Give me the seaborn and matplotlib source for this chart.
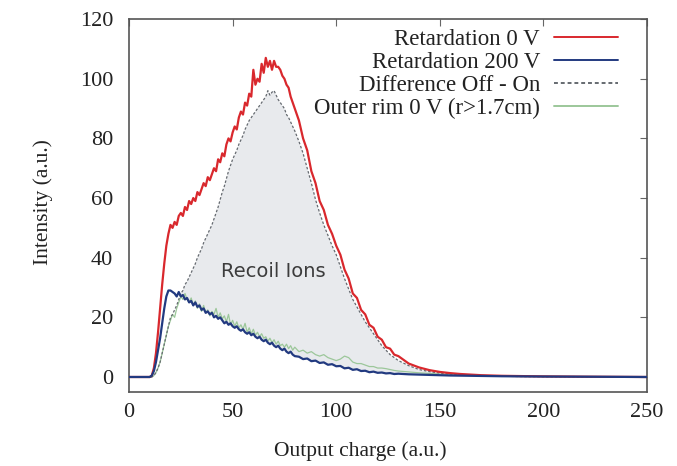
import numpy as np
import matplotlib
matplotlib.use("Agg")
import matplotlib.pyplot as plt
import seaborn as sns

# Output charge bins (a.u.)
charge = [0,
          10, 11, 12, 13, 14, 15, 16, 17, 18, 19, 20,
          21, 22, 23, 24, 25, 26, 27, 28, 29, 30,
          31, 32, 33, 34, 35, 36, 37, 38, 39, 40,
          41, 42, 43, 44, 45, 46, 47, 48, 49, 50,
          51, 52, 53, 54, 55, 56, 57, 58, 59, 60,
          61, 62, 63, 64, 65, 66, 67, 68, 69, 70,
          71, 72, 73, 74, 75, 76, 77, 78, 79, 80,
          82, 84, 86, 88, 90, 92, 94, 96, 98, 100,
          102, 104, 106, 108, 110, 112, 114, 116, 118, 120,
          122, 124, 126, 128, 130,
          135, 140, 145, 150, 155, 160, 170, 180, 190, 200, 220, 250]

# Retardation 0 V
ret_0v = [0,
          0, 0.5, 3, 8, 15, 23, 31, 38, 44, 48, 51,
          50, 52, 51, 54, 55, 54, 57, 56, 59, 58,
          60, 59, 62, 61, 63, 65, 64, 67, 66, 68,
          70, 69, 73, 72, 75, 74, 78, 80, 79, 82,
          84, 83, 87, 89, 88, 92, 91, 95, 94, 103,
          98, 100, 99, 105, 102, 107, 104, 106, 103, 106,
          104, 104, 103, 101, 100, 98, 97, 94, 92, 90,
          86, 80, 76, 69, 65, 59, 56, 51, 48, 44,
          41, 36, 33, 28, 26.5, 22.5, 21, 17.5, 16.5, 13.5,
          12.5, 10, 9.5, 7.5, 7,
          4.5, 3.2, 2.3, 1.7, 1.3, 1, 0.6, 0.4, 0.3, 0.2, 0.1, 0]

# Retardation 200 V
ret_200v = [0,
            0, 0.5, 2, 5, 9, 13, 18, 23, 27, 29, 29,
            28.5, 28, 27, 28.5, 27, 27.5, 26, 26.5, 25, 25.5,
            24, 25, 23.5, 24, 22.5, 23, 21.5, 22, 21, 21.5,
            20, 20.5, 19.5, 20, 19, 18, 18.5, 17.5, 18, 17,
            16.5, 17, 16, 15.5, 16, 15, 14.5, 15, 14, 14.5,
            13.5, 13, 13.5, 12.5, 12, 12.5, 11.5, 11, 11.5, 10.5,
            10, 10.5, 9.5, 9, 9.5, 8.5, 8, 8.5, 7.5, 7,
            6.8, 6.0, 6.2, 5.3, 5.5, 4.7, 4.9, 4.1, 4.3, 3.6,
            3.7, 2.9, 3.1, 2.4, 2.6, 2.0, 2.1, 1.6, 1.8, 1.4,
            1.5, 1.2, 1.3, 1.0, 1.1,
            0.9, 0.8, 0.7, 0.6, 0.5, 0.45, 0.35, 0.25, 0.2, 0.15, 0.1, 0]

# Difference Off - On
diff_off_on = [0,
               0, 0, 0.5, 1.5, 3, 5, 8, 11, 14, 17, 20,
               21, 22.5, 24, 26, 28, 29, 31, 32, 33.5, 35,
               36.5, 38, 40, 41.5, 43, 45, 46.5, 48, 49.5, 51,
               53, 55, 57, 59.5, 62, 64, 66.5, 69, 71, 73,
               74.5, 76, 78, 79.5, 81, 83, 84.5, 86, 87, 88,
               89, 90, 91, 92, 93, 94, 96, 94.5, 95.5, 96,
               94.5, 93, 92, 91, 90, 88, 87, 85.5, 84, 82.5,
               79, 75, 70, 65, 59.5, 55, 51, 47.5, 44, 41,
               37, 33, 29.5, 26, 23.5, 21, 18.5, 16.5, 14.5, 12.5,
               10.5, 9, 7.5, 6.5, 5.5,
               3.8, 2.5, 1.8, 1.3, 1, 0.7, 0.4, 0.25, 0.15, 0.1, 0.05, 0]

# Outer rim 0 V (r>1.7cm)
outer_rim = [0,
             0, 0, 0.5, 1.5, 3, 5, 8, 11, 14, 17, 19,
             21, 20, 23, 25, 27, 26, 28, 26, 25, 26.5,
             24, 25.5, 23, 24.5, 22, 24, 21.5, 22.5, 20.5, 22,
             21, 23, 20, 21.5, 19.5, 20.5, 18.5, 21, 17.5, 19,
             17, 18.5, 16.5, 17.5, 16, 18, 15, 16.5, 14.5, 16,
             14, 15, 13.5, 14.5, 13, 13.5, 12, 13, 11.5, 12.5,
             11, 12, 10.5, 11, 10, 11, 9.5, 10.5, 9, 10,
             8.5, 9, 8, 8.5, 7.5, 7, 7.5, 6.5, 6, 5.5,
             6, 7, 6.5, 5, 4.5, 4.5, 4, 3.5, 3.5, 3,
             3, 2.8, 2.5, 2.2, 2,
             1.7, 1.4, 1.2, 1, 0.8, 0.7, 0.5, 0.35, 0.25, 0.2, 0.1, 0]

x_ticks = [0, 50, 100, 150, 200, 250]
y_ticks = [0, 20, 40, 60, 80, 100, 120]

sns.set_theme(style="white")
plt.rcParams["font.family"] = ["Liberation Serif", "DejaVu Serif"]

fig, ax = plt.subplots(figsize=(6.77, 4.66), dpi=100)
fig.subplots_adjust(left=0.1906, right=0.9557, top=0.959, bottom=0.159)

x = np.asarray(charge, dtype=float)
lo = np.asarray(ret_200v, dtype=float)
hi = np.asarray(diff_off_on, dtype=float)

# shaded recoil-ion contribution between the 200 V curve and the difference
ax.fill_between(x, lo, hi, where=hi >= lo, interpolate=True,
                color="#e8eaed", linewidth=0, zorder=1)

sns.lineplot(x=charge, y=ret_0v, ax=ax, color="#d9282d", linewidth=1.6,
             label="Retardation 0 V", zorder=5)
sns.lineplot(x=charge, y=ret_200v, ax=ax, color="#223a80", linewidth=1.6,
             label="Retardation 200 V", zorder=5)
sns.lineplot(x=charge, y=diff_off_on, ax=ax, color="#656a70", linewidth=0.9,
             label="Difference Off - On", zorder=4)
sns.lineplot(x=charge, y=outer_rim, ax=ax, color="#9cc79a", linewidth=0.9,
             label="Outer rim 0 V (r>1.7cm)", zorder=3)
ax.lines[2].set_dashes((2, 1.5))

ax.text(69.5, 35.3, "Recoil Ions", fontsize=14, color="#3c3c3c",
        family=["DejaVu Sans"], ha="center", va="center", zorder=6)

ax.set_xlim(0, 250)
ax.set_ylim(-5, 120)
ax.set_xticks(x_ticks)
ax.set_yticks(y_ticks)
ax.tick_params(axis="both", direction="in", length=5, width=0.8,
               color="#666666", labelsize=16, top=True, right=True,
               labelcolor="#222222")
ax.tick_params(axis="y", pad=11.5)
ax.tick_params(axis="x", pad=8)
for side in ax.spines.values():
    side.set_color("#555555")
    side.set_linewidth(1.2)

ax.set_xlabel("Output charge (a.u.)", fontsize=15.5, color="#222222")
ax.set_ylabel("Intensity (a.u.)", fontsize=15.5, color="#222222")
ax.xaxis.set_label_coords(0.446, -0.132)
ax.yaxis.set_label_coords(-0.147, 0.51)

leg = ax.legend(loc="upper right", bbox_to_anchor=(0.944, 0.973), frameon=False,
                markerfirst=False, fontsize=16.5, handlelength=2.8,
                labelspacing=0.08, handletextpad=0.6, borderaxespad=0,
                borderpad=0)
for t in leg.get_texts():
    t.set_color("#222222")
for h in leg.legend_handles:
    h.set_linewidth(1.4)

fig.savefig("out.png", dpi=100)
